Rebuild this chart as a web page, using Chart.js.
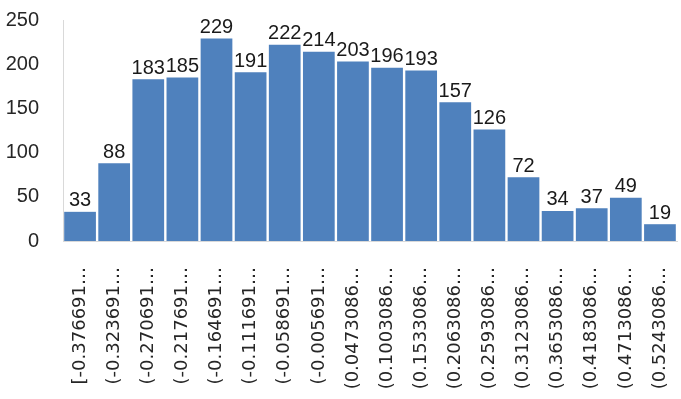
<!DOCTYPE html>
<html>
<head>
<meta charset="utf-8">
<script src="https://cdn.jsdelivr.net/npm/chart.js@4"></script>
<style>
  html, body { margin: 0; padding: 0; background: #fff; }
  #wrap { width: 681px; height: 399px; }
</style>
</head>
<body>
<div id="wrap"><canvas id="histChart"></canvas></div>
<script>
// bins (as shown, truncated in the original)
const binLabels = [
    '[-0.376691…', '(-0.323691…', '(-0.270691…', '(-0.217691…', '(-0.164691…',
    '(-0.111691…', '(-0.058691…', '(-0.005691…', '(0.0473086…', '(0.1003086…',
    '(0.1533086…', '(0.2063086…', '(0.2593086…', '(0.3123086…', '(0.3653086…',
    '(0.4183086…', '(0.4713086…', '(0.5243086…'
];
const counts = [33, 88, 183, 185, 229, 191, 222, 214, 203, 196, 193, 157, 126, 72, 34, 37, 49, 19];
const yTicks = [0, 50, 100, 150, 200, 250];

const valueFont = { family: "'Liberation Sans', Arial, sans-serif", size: 20 };
const binFont = { family: "'DejaVu Sans', Verdana, sans-serif", size: 18 };

// value labels above each bar
const barValues = {
    id: 'barValues',
    afterDatasetsDraw(chart) {
        const ctx = chart.ctx;
        const meta = chart.getDatasetMeta(0);
        ctx.save();
        ctx.font = valueFont.size + 'px ' + valueFont.family;
        ctx.fillStyle = '#1a1a1a';
        ctx.textAlign = 'center';
        ctx.textBaseline = 'bottom';
        meta.data.forEach((bar, i) => {
            ctx.fillText(String(counts[i]), bar.x, bar.y - 1);
        });
        ctx.restore();
    }
};

document.addEventListener('DOMContentLoaded', () => {
    const canvas = document.getElementById('histChart');

    new Chart(canvas, {
        type: 'bar',
        data: {
            labels: binLabels,
            datasets: [{
                data: counts,
                backgroundColor: '#4f81bd',
                borderWidth: 0,
                categoryPercentage: 1,
                barPercentage: 0.93
            }]
        },
        options: {
            responsive: true,
            maintainAspectRatio: false,
            animation: false,
            layout: { padding: { top: 20, right: 4, left: 0, bottom: 0 } },
            plugins: {
                legend: { display: false },
                tooltip: { enabled: false }
            },
            scales: {
                y: {
                    min: 0,
                    max: 250,
                    afterBuildTicks: scale => { scale.ticks = yTicks.map(v => ({ value: v })); },
                    afterFit: scale => {
                        scale.width = 63;
                        scale.paddingTop = 0;
                        scale.paddingBottom = 0;
                    },
                    grid: { display: false },
                    border: { display: true, color: '#d9d9d9', width: 1 },
                    ticks: { color: '#262626', font: valueFont, padding: 16 }
                },
                x: {
                    afterFit: scale => {
                        scale.height = 158;
                        scale.paddingLeft = 0;
                        scale.paddingRight = 0;
                    },
                    grid: { display: false },
                    border: { display: true, color: '#d9d9d9', width: 1 },
                    ticks: {
                        color: '#262626',
                        font: binFont,
                        minRotation: 90,
                        maxRotation: 90,
                        autoSkip: false,
                        padding: 18
                    }
                }
            }
        },
        plugins: [barValues]
    });
});
</script>
</body>
</html>
